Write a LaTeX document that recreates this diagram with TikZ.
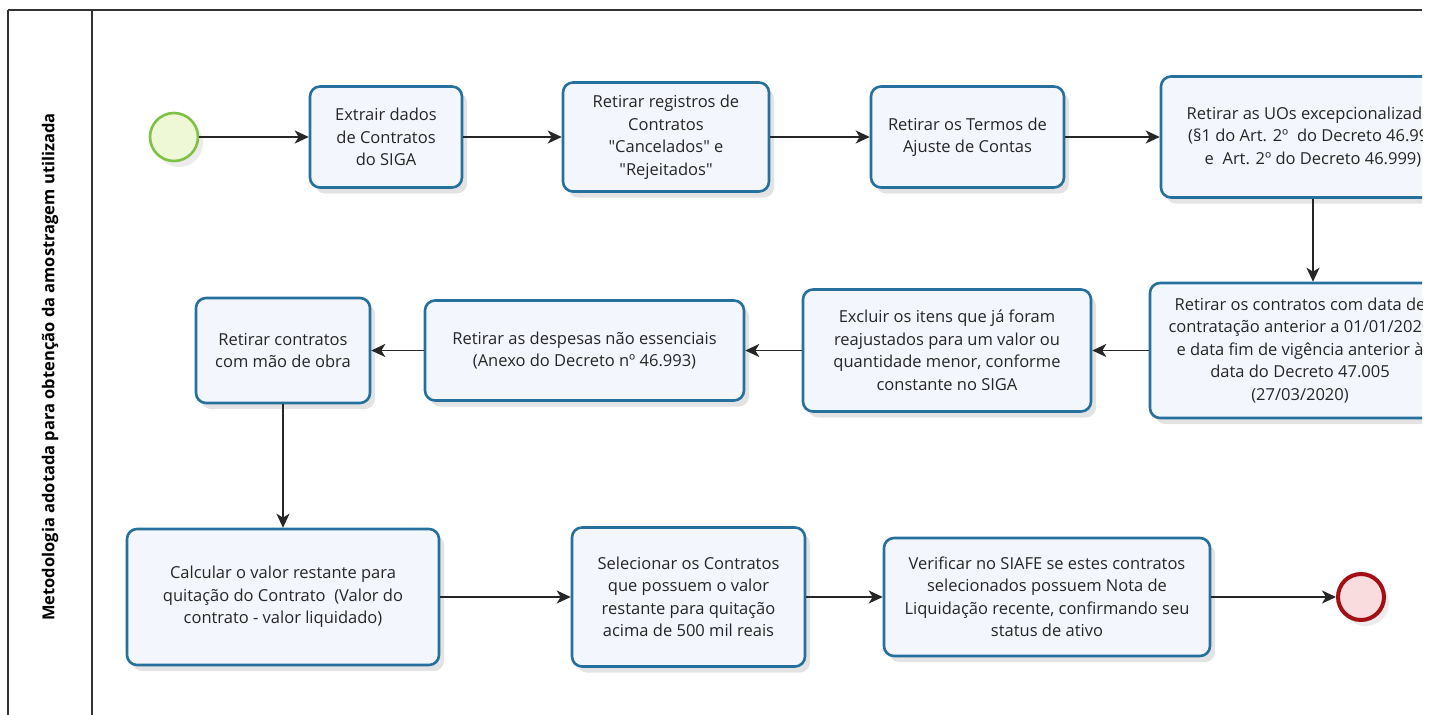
\documentclass[tikz,border=0pt]{standalone}
\usepackage{fontspec}
\setmainfont{Open Sans}
\usetikzlibrary{arrows.meta,shadows,backgrounds}
\definecolor{taskline}{RGB}{38,112,158}
\definecolor{taskfill}{RGB}{244,246,253}
\definecolor{startline}{RGB}{125,194,67}
\definecolor{startfill}{RGB}{238,248,214}
\definecolor{endline}{RGB}{163,15,20}
\definecolor{endfill}{RGB}{249,220,221}
\definecolor{ghostgray}{RGB}{230,230,230}

\begin{document}
\begin{tikzpicture}[x=1pt, y=-1pt,
  task/.style={draw=taskline, fill=taskfill, line width=2.6pt, rounded corners=10pt,
    align=center, inner sep=2pt, text=black!85, font=\fontsize{16.5}{22.5}\selectfont,
    drop shadow={shadow xshift=5pt, shadow yshift=-6pt, opacity=.22}},
  startev/.style={circle, draw=startline, fill=startfill, line width=2.6pt,
    minimum size=48pt, inner sep=0pt,
    drop shadow={shadow xshift=5pt, shadow yshift=-6pt, opacity=.15}},
  endev/.style={circle, draw=endline, fill=endfill, line width=4pt,
    minimum size=46pt, inner sep=0pt,
    drop shadow={shadow xshift=5pt, shadow yshift=-6pt, opacity=.15}},
  flow/.style={draw=black!85, line width=1.3pt, -{Stealth[length=14pt, width=13pt, inset=4pt]}},
  ghostflow/.style={draw=ghostgray, line width=1.3pt, -{Stealth[length=14pt, width=13pt, inset=4pt]}},
  lane/.style={draw=black!80, line width=1.4pt}]
\useasboundingbox (0,0) rectangle (1436,715);
\clip (0,0) rectangle (1422,715);
\draw[lane] (8,10) -- (1422,10);
\draw[lane] (8,10) -- (8,715);
\draw[lane] (92,10) -- (92,715);
\path (50,367) node (lanelabel) [rotate=90, text=black, font=\fontsize{16.5}{18}\selectfont\bfseries] {Metodologia adotada para obtenção da amostragem utilizada};

\path (174,137) node (inicio) [startev] {};
\path (386,137) node (extrair) [task, minimum width=152pt, minimum height=101pt] {Extrair dados\\de Contratos\\do SIGA};
\path (666,137) node (cancelados) [task, minimum width=206pt, minimum height=109pt] {Retirar registros de\\Contratos\\\textquotedbl Cancelados\textquotedbl{} e\\\textquotedbl Rejeitados\textquotedbl};
\path (967.5,137) node (termos) [task, minimum width=193pt, minimum height=101pt] {Retirar os Termos de\\Ajuste de Contas};
\path (1313,137) node (uos) [task, minimum width=304pt, minimum height=121pt] {Retirar as UOs excepcionalizadas\\(§1 do Art. 2º~ do Decreto 46.993\\e~ Art. 2º do Decreto 46.999)};
\path (1300,350.5) node (datas) [task, minimum width=300pt, minimum height=135pt] {Retirar os contratos com data de\\contratação anterior a 01/01/2020\\e data fim de vigência anterior à\\data do Decreto 47.005\\(27/03/2020)};
\path (947,350.5) node (excluir) [task, minimum width=288pt, minimum height=122pt] {Excluir os itens que já foram\\reajustados para um valor ou\\quantidade menor, conforme\\constante no SIGA};
\path (584.5,350.5) node (despesas) [task, minimum width=319pt, minimum height=100pt] {Retirar as despesas não essenciais\\(Anexo do Decreto nº 46.993)};
\path (283,350.5) node (maodeobra) [task, minimum width=174pt, minimum height=105pt] {Retirar contratos\\com mão de obra};
\path (283,597) node (calcular) [task, minimum width=312pt, minimum height=136pt] {Calcular o valor restante para\\quitação do Contrato~ (Valor do\\contrato - valor liquidado)};
\path (688.5,597) node (selecionar) [task, minimum width=233pt, minimum height=139pt] {Selecionar os Contratos\\que possuem o valor\\restante para quitação\\acima de 500 mil reais};
\path (1047,597) node (verificar) [task, minimum width=326pt, minimum height=118pt] {Verificar no SIAFE se estes contratos\\selecionados possuem Nota de\\Liquidação recente, confirmando seu\\status de ativo};
\path (1361,597) node (fim) [endev] {};

\begin{scope}[on background layer, transform canvas={shift={(14pt,-15pt)}}]
\draw[ghostflow] (inicio) -- (extrair);
\draw[ghostflow] (extrair) -- (cancelados);
\draw[ghostflow] (cancelados) -- (termos);
\draw[ghostflow] (termos) -- (uos);
\draw[ghostflow] (uos.south) -- (uos.south |- datas.north);
\draw[ghostflow] (datas) -- (excluir);
\draw[ghostflow] (excluir) -- (despesas);
\draw[ghostflow] (despesas) -- (maodeobra);
\draw[ghostflow] (maodeobra) -- (calcular);
\draw[ghostflow] (calcular) -- (selecionar);
\draw[ghostflow] (selecionar) -- (verificar);
\draw[ghostflow] (verificar) -- (fim);
\end{scope}

\draw[flow] (inicio) -- (extrair);
\draw[flow] (extrair) -- (cancelados);
\draw[flow] (cancelados) -- (termos);
\draw[flow] (termos) -- (uos);
\draw[flow] (uos.south) -- (uos.south |- datas.north);
\draw[flow] (datas) -- (excluir);
\draw[flow] (excluir) -- (despesas);
\draw[flow] (despesas) -- (maodeobra);
\draw[flow] (maodeobra) -- (calcular);
\draw[flow] (calcular) -- (selecionar);
\draw[flow] (selecionar) -- (verificar);
\draw[flow] (verificar) -- (fim);
\end{tikzpicture}
\end{document}
